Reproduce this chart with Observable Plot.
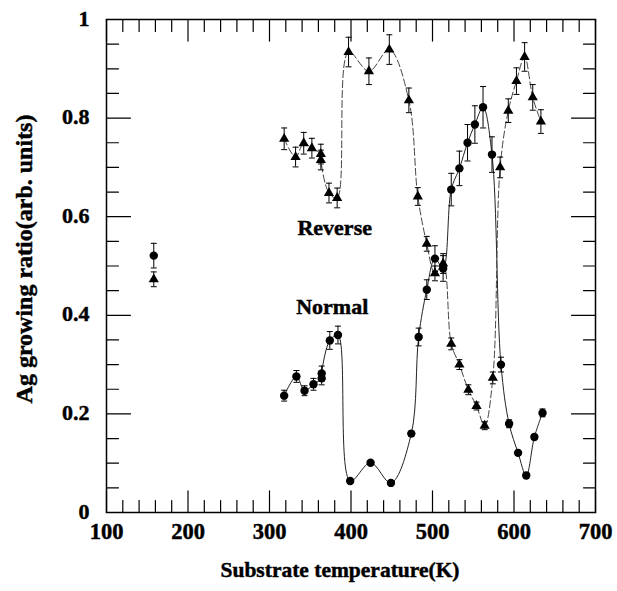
<!DOCTYPE html>
<html><head><meta charset="utf-8">
<script src="https://cdn.jsdelivr.net/npm/d3@7"></script>
<script src="https://cdn.jsdelivr.net/npm/@observablehq/plot@0.6"></script>
<style>body{margin:0;background:#fff} svg text{stroke:black;stroke-width:0.45px}</style>
</head><body><div id="chart"></div>
<script>
// Normal (circles)
const normalT     = [158, 318, 333, 343, 354, 364, 364, 374, 384, 399, 424, 449, 474, 483, 493, 503, 513, 523, 533, 543, 552, 562, 573, 584, 594, 605, 615, 625, 635];
const normalRatio = [0.521, 0.237, 0.276, 0.247, 0.26, 0.272, 0.282, 0.349, 0.36, 0.064, 0.101, 0.06, 0.16, 0.356, 0.452, 0.515, 0.495, 0.655, 0.698, 0.75, 0.787, 0.822, 0.726, 0.30, 0.18, 0.121, 0.075, 0.153, 0.202];
const normalErr   = [0.025, 0.011, 0.012, 0.01, 0.012, 0.013, 0.015, 0.018, 0.018, 0.004, 0.004, 0.004, 0.005, 0.018, 0.02, 0.026, 0.026, 0.033, 0.035, 0.037, 0.038, 0.042, 0.036, 0.015, 0.008, 0.005, 0.005, 0.005, 0.008];
// Reverse (triangles)
const reverseT     = [158, 318, 332, 342, 352, 363, 363, 373, 383, 397, 422, 447, 471, 482, 493, 503, 513, 523, 533, 544, 554, 564, 574, 583, 593, 603, 613, 623, 633];
const reverseRatio = [0.473, 0.758, 0.721, 0.749, 0.739, 0.727, 0.715, 0.648, 0.638, 0.934, 0.895, 0.939, 0.836, 0.641, 0.545, 0.485, 0.505, 0.342, 0.30, 0.249, 0.216, 0.176, 0.273, 0.70, 0.815, 0.875, 0.924, 0.842, 0.793];
const reverseErr   = [0.015, 0.022, 0.02, 0.022, 0.02, 0.02, 0.02, 0.02, 0.02, 0.03, 0.027, 0.03, 0.025, 0.018, 0.015, 0.015, 0.02, 0.012, 0.01, 0.01, 0.008, 0.008, 0.012, 0.021, 0.024, 0.027, 0.029, 0.026, 0.024];

const xTicks = [100, 200, 300, 400, 500, 600, 700];
const xTickLabels = ["100", "200", "300", "400", "500", "600", "700"];
const yTicks = [0, 0.2, 0.4, 0.6, 0.8, 1];
const yTickLabels = ["0", "0.2", "0.4", "0.6", "0.8", "1"];
const xMinorTicks = d3.range(100, 701, 20);
const yMinorTicks = d3.range(0, 21).map(i => i / 20);

const annotationText = ["Reverse", "Normal"];
const annotationT = [380, 377];
const annotationRatio = [0.578, 0.416];

const xTitle = "Substrate temperature(K)";
const yTitle = "Ag growing ratio(arb. units)";

const mk = (T, R, E) => T.map((t, i) => ({t, r: R[i], e: E[i]}));
const normal = mk(normalT, normalRatio, normalErr);
const reverse = mk(reverseT, reverseRatio, reverseErr);
const annotations = annotationText.map((s, i) => ({s, t: annotationT[i], r: annotationRatio[i]}));

const tickShape = {draw(c, l) { c.moveTo(0, 0); c.lineTo(0, -l); }};
const capSymbol = {draw(c) { c.moveTo(-3, 0); c.lineTo(3, 0); }};

function ticks(data, dim, anchor, rotate, lenFn) {
  const o = {frameAnchor: anchor, rotate, length: lenFn, anchor: "start", shape: tickShape, stroke: "black", strokeWidth: 1.2};
  o[dim] = d => d;
  return Plot.vector(data, o);
}
const xLen = d => (xTicks.includes(d) ? 9 : 5);
const yLen = d => (yTicks.some(v => Math.abs(v - d) < 1e-9) ? 10 : 5);

function errorMarks(data) {
  return [
    Plot.ruleX(data, {x: "t", y1: d => d.r - d.e, y2: d => d.r + d.e, stroke: "black", strokeWidth: 1}),
    Plot.dot(data, {x: "t", y: d => d.r + d.e, symbol: capSymbol, stroke: "black", strokeWidth: 1, fill: "none"}),
    Plot.dot(data, {x: "t", y: d => d.r - d.e, symbol: capSymbol, stroke: "black", strokeWidth: 1, fill: "none"})
  ];
}

const chart = Plot.plot({
  width: 617,
  height: 591,
  marginLeft: 106,
  marginRight: 22,
  marginTop: 19,
  marginBottom: 79,
  style: {fontFamily: '"Liberation Serif", "Times New Roman", serif', background: "white", color: "black"},
  x: {domain: [100, 700], axis: null},
  y: {domain: [0, 1], axis: null},
  marks: [
    Plot.frame({stroke: "black", strokeWidth: 1.5}),
    ticks(xMinorTicks, "x", "bottom", 0, xLen),
    ticks(xMinorTicks, "x", "top", 180, xLen),
    ticks(yMinorTicks, "y", "left", 90, yLen),
    ticks(yMinorTicks, "y", "right", -90, yLen),
    Plot.axisX(xTicks, {anchor: "bottom", tickSize: 0, tickPadding: 11, tickFormat: (d, i) => xTickLabels[i], fontSize: 22.5, fontWeight: "bold", label: null}),
    Plot.axisY(yTicks, {anchor: "left", tickSize: 0, tickPadding: 17, dy: -1, tickFormat: (d, i) => yTickLabels[i], fontSize: 22, fontWeight: "bold", label: null}),
    Plot.line(normal.filter(d => d.t > 200), {x: "t", y: "r", curve: "catmull-rom", stroke: "#222", strokeWidth: 1}),
    Plot.line(reverse.filter(d => d.t > 200), {x: "t", y: "r", curve: "catmull-rom", stroke: "#444", strokeWidth: 1, strokeDasharray: "7,3"}),
    ...errorMarks(normal),
    ...errorMarks(reverse),
    Plot.dot(normal, {x: "t", y: "r", r: 4.2, fill: "black", stroke: "none"}),
    Plot.dot(reverse, {x: "t", y: "r", r: 3.8, symbol: "triangle", fill: "black", stroke: "none"}),
    Plot.text(annotations, {x: "t", y: "r", text: "s", fontSize: 22, fontWeight: "bold", fill: "black"}),
    Plot.text([xTitle], {frameAnchor: "bottom", text: d => d, dy: 64, dx: -11, fontSize: 21.5, fontWeight: "bold", fill: "black"}),
    Plot.text([yTitle], {frameAnchor: "left", textAnchor: "middle", text: d => d, dx: -82, dy: -7, rotate: -90, fontSize: 24, fontWeight: "bold", fill: "black"})
  ]
});
document.getElementById("chart").appendChild(chart);
</script>
</body></html>
